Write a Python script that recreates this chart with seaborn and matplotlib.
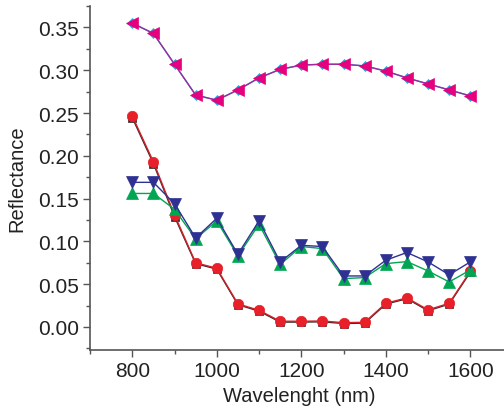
import numpy as np
import pandas as pd
import matplotlib
matplotlib.use("Agg")
import matplotlib.pyplot as plt
import seaborn as sns
from matplotlib.ticker import MultipleLocator

wavelength = [800, 850, 900, 950, 1000, 1050, 1100, 1150, 1200, 1250, 1300, 1350, 1400, 1450, 1500, 1550, 1600]

magenta = [0.355, 0.343, 0.307, 0.271, 0.265, 0.277, 0.291, 0.301, 0.306, 0.307, 0.307, 0.305, 0.299, 0.291, 0.284, 0.277, 0.270]
cyan = [0.355, 0.343, 0.307, 0.271, 0.265, 0.277, 0.291, 0.301, 0.306, 0.307, 0.307, 0.305, 0.299, 0.291, 0.284, 0.277, 0.270]
red = [0.2465, 0.193, 0.131, 0.075, 0.0686, 0.027, 0.0195, 0.0067, 0.0067, 0.007, 0.005, 0.0055, 0.0277, 0.034, 0.020, 0.0277, 0.065]
black = [0.2445, 0.191, 0.129, 0.074, 0.0676, 0.026, 0.0185, 0.0057, 0.0057, 0.006, 0.004, 0.0045, 0.0267, 0.033, 0.019, 0.0267, 0.064]
blue = [0.169, 0.169, 0.144, 0.104, 0.127, 0.085, 0.124, 0.076, 0.0954, 0.094, 0.0596, 0.0596, 0.078, 0.087, 0.076, 0.061, 0.076]
green = [0.156, 0.156, 0.1375, 0.103, 0.124, 0.083, 0.120, 0.073, 0.094, 0.0916, 0.0565, 0.0577, 0.074, 0.0764, 0.0654, 0.0526, 0.0666]

sns.set_theme(style="ticks")
plt.rcParams['font.family'] = ['Liberation Sans', 'DejaVu Sans']

fig = plt.figure(figsize=(5.04, 4.14), dpi=100)
ax = fig.add_axes([0.1786, 0.152, 0.83, 0.831])

series = [
    (black, "s", "#2b2b2b", "#3a2a2a", 5.5),
    (red, "o", "#e8202a", "#d42028", 7.5),
    (green, "^", "#00a651", "#00a651", 8),
    (blue, "v", "#2e3192", "#2e3192", 8),
    (cyan, "D", "#1ab0e8", "#1ab0e8", 5.5),
    (magenta, "<", "#e6007e", "#a0289a", 8.5),
]
for vals, mk, mc, lc, ms in series:
    sns.lineplot(x=wavelength, y=vals, ax=ax, color=lc, linewidth=1.0,
                 marker=mk, markersize=ms, markerfacecolor=mc,
                 markeredgecolor=mc, markeredgewidth=0.5)

ax.set_xlim(700, 1690)
ax.set_ylim(-0.027, 0.375)
ax.xaxis.set_major_locator(MultipleLocator(200))
ax.xaxis.set_minor_locator(MultipleLocator(100))
ax.yaxis.set_major_locator(MultipleLocator(0.05))
ax.yaxis.set_minor_locator(MultipleLocator(0.025))
ax.yaxis.set_major_formatter(matplotlib.ticker.FormatStrFormatter('%.2f'))

for s in ["top", "right"]:
    ax.spines[s].set_visible(False)
for s in ["left", "bottom"]:
    ax.spines[s].set_color("#555555")
    ax.spines[s].set_linewidth(1.2)

ax.tick_params(axis="both", which="major", direction="out", length=5, width=1, color="#555555",
               labelsize=15, labelcolor="#222222", pad=3)
ax.tick_params(axis="both", which="minor", direction="out", length=3, width=1, color="#555555")

ax.set_xlabel("Wavelenght (nm)", fontsize=14.5, color="#222222", labelpad=4)
ax.set_ylabel("Reflectance", fontsize=14.5, color="#222222", labelpad=8)

fig.savefig("out.png", dpi=100)
